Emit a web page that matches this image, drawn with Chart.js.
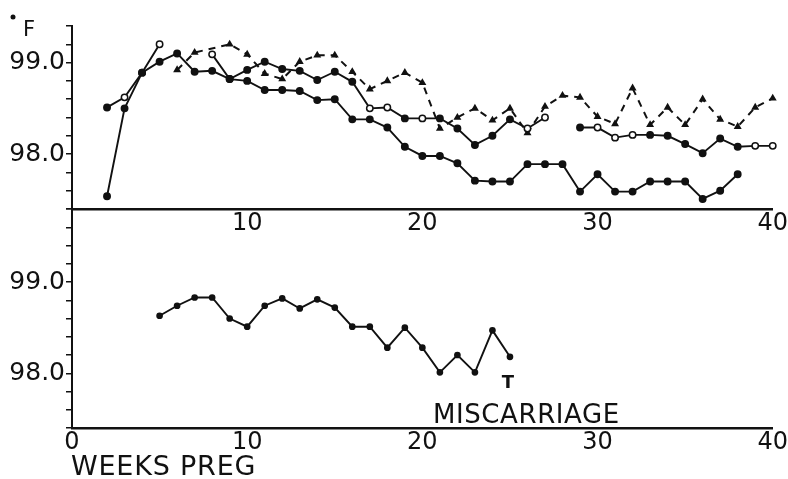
<!DOCTYPE html>
<html>
<head>
<meta charset="utf-8">
<script src="https://cdn.jsdelivr.net/npm/chart.js@4.4.1/dist/chart.umd.min.js"></script>
<style>
  html, body { margin: 0; padding: 0; background: #fff; }
  #wrap { position: relative; width: 788px; height: 479px; overflow: hidden; }
  canvas { position: absolute; left: 0; top: 0; }
</style>
</head>
<body>
<div id="wrap">
  <canvas id="topChart" width="788" height="479"></canvas>
  <canvas id="bottomChart" width="788" height="479"></canvas>
</div>
<script>
// semanas del panel superior (2 a 40)
const weeksTop = [2, 3, 4, 5, 6, 7, 8, 9, 10, 11, 12, 13, 14, 15, 16, 17, 18, 19, 20,
  21, 22, 23, 24, 25, 26, 27, 28, 29, 30, 31, 32, 33, 34, 35, 36, 37, 38, 39, 40];
// curva inferior del panel superior
const tempsLow = [98.51, 98.62, 98.89, 99.01, 99.10, 98.90, 98.91, 98.82, 98.80, 98.70,
  98.70, 98.69, 98.59, 98.60, 98.38, 98.38, 98.29, 98.08, 97.98, 97.98, 97.90, 97.71,
  97.70, 97.70, 97.89, 97.89, 97.89, 97.59, 97.78, 97.59, 97.59, 97.70, 97.70, 97.70,
  97.51, 97.60, 97.78, null, null];
// curva media (circulos abiertos)
const tempsOpen = [97.54, 98.50, 98.89, 99.20, null, null, 99.09, 98.82, 98.92, 99.01,
  98.93, 98.91, 98.81, 98.90, 98.79, 98.50, 98.51, 98.39, 98.39, 98.39, 98.28, 98.10,
  98.20, 98.38, 98.28, 98.40, null, 98.29, 98.29, 98.18, 98.21, 98.21, 98.20, 98.11,
  98.01, 98.17, 98.08, 98.09, 98.09];
// curva punteada
const tempsDashed = [null, null, null, null, 98.92, 99.11, null, 99.20, 99.09, 98.88,
  98.82, 99.01, 99.08, 99.08, 98.90, 98.71, 98.80, 98.89, 98.78, 98.28, 98.40, 98.50,
  98.37, 98.50, 98.23, 98.52, 98.64, 98.62, 98.41, 98.33, 98.72, 98.32, 98.51, 98.32,
  98.60, 98.38, 98.30, 98.51, 98.61];
// semanas con marcador hueco
const hollowLow = [3];
const hollowOpen = [5, 8, 17, 18, 20, 26, 27, 30, 31, 32, 39, 40];

// panel inferior: embarazo con aborto
const weeksBottom = [5, 6, 7, 8, 9, 10, 11, 12, 13, 14, 15, 16, 17, 18, 19, 20, 21, 22, 23, 24, 25];
const tempsMiscarriage = [98.63, 98.74, 98.83, 98.83, 98.60, 98.51, 98.74, 98.82, 98.71,
  98.81, 98.72, 98.51, 98.51, 98.28, 98.50, 98.28, 98.01, 98.20, 98.01, 98.47, 98.18];
const miscarriageWeek = 25;

// etiquetas de los ejes
const xTicks = [0, 10, 20, 30, 40];
const yLabels = [98, 99];

const ink = '#111';
const font = 'DejaVu Sans';

const toPoints = (xs, ys) => xs.map((x, i) => ({ x: x, y: ys[i] }));

function yScale(max) {
  return {
    min: 97.4,
    max: max,
    afterFit: s => { s.width = 72; },
    ticks: {
      stepSize: 0.2,
      autoSkip: false,
      padding: 1,
      color: ink,
      font: { family: font, size: 25 },
      callback: v => {
        const hit = yLabels.find(t => Math.abs(t - v) < 0.01);
        return hit === undefined ? '' : hit.toFixed(1);
      }
    },
    grid: { display: true, drawOnChartArea: false, drawTicks: true, tickLength: 6, color: ink, lineWidth: 1.5 },
    border: { display: true, color: ink, width: 2 }
  };
}

function xScale(height, showZero) {
  return {
    type: 'linear',
    min: 0,
    max: 40,
    afterFit: s => { s.height = height; },
    afterBuildTicks: s => { s.ticks = xTicks.map(v => ({ value: v })); },
    ticks: {
      autoSkip: false,
      maxRotation: 0,
      padding: 0,
      color: ink,
      font: { family: font, size: 24 },
      callback: v => (v === 0 && !showZero) ? '' : String(v)
    },
    grid: { display: false, drawTicks: false },
    border: { display: true, color: ink, width: 2.5 }
  };
}

function solidSet(points, hollow) {
  return {
    data: points,
    borderColor: ink,
    borderWidth: 1.9,
    pointRadius: 3.2,
    pointBorderWidth: 1.5,
    pointBorderColor: ink,
    pointBackgroundColor: ctx => (ctx.raw && hollow.includes(ctx.raw.x)) ? '#fff' : ink,
    clip: false,
    spanGaps: false
  };
}

const baseOptions = {
  responsive: false,
  animation: false,
  events: [],
  plugins: { legend: { display: false }, tooltip: { enabled: false } }
};

// texto del panel superior
const topText = {
  id: 'topText',
  afterDraw(chart) {
    const ctx = chart.ctx;
    ctx.save();
    ctx.fillStyle = ink;
    ctx.beginPath();
    ctx.arc(13, 17, 2.5, 0, Math.PI * 2);
    ctx.fill();
    ctx.font = '21px "' + font + '"';
    ctx.textBaseline = 'alphabetic';
    ctx.fillText('F', 23, 36);
    ctx.restore();
  }
};

// texto del panel inferior
const bottomText = {
  id: 'bottomText',
  afterDraw(chart) {
    const ctx = chart.ctx;
    const x = chart.scales.x;
    const y = chart.scales.y;
    const lastTemp = tempsMiscarriage[weeksBottom.indexOf(miscarriageWeek)];
    const xm = x.getPixelForValue(miscarriageWeek);
    ctx.save();
    ctx.fillStyle = ink;
    ctx.textBaseline = 'alphabetic';
    ctx.textAlign = 'center';
    ctx.font = 'bold 18px "' + font + '"';
    ctx.fillText('T', xm - 2, y.getPixelForValue(lastTemp) + 31);
    ctx.textAlign = 'left';
    ctx.font = '26px "' + font + '"';
    ctx.letterSpacing = '0.6px';
    ctx.fillText('MISCARRIAGE', xm - 77, chart.chartArea.bottom - 5);
    ctx.font = '27px "' + font + '"';
    ctx.letterSpacing = '0.8px';
    ctx.fillText('WEEKS PREG', x.getPixelForValue(0) - 1, 475);
    ctx.restore();
  }
};

new Chart(document.getElementById('topChart'), {
  type: 'line',
  data: {
    datasets: [
      solidSet(toPoints(weeksTop, tempsLow), hollowLow),
      solidSet(toPoints(weeksTop, tempsOpen), hollowOpen),
      {
        data: toPoints(weeksTop, tempsDashed),
        borderColor: ink,
        borderWidth: 2,
        borderDash: [7, 6],
        pointStyle: 'triangle',
        pointRadius: 2.6,
        pointBackgroundColor: ink,
        pointBorderColor: ink,
        clip: false,
        spanGaps: true
      }
    ]
  },
  options: {
    ...baseOptions,
    layout: { padding: { left: 0, top: 26, right: 15, bottom: 239 } },
    scales: { x: xScale(31, false), y: yScale(99.4) }
  },
  plugins: [topText]
});

new Chart(document.getElementById('bottomChart'), {
  type: 'line',
  data: {
    datasets: [
      {
        ...solidSet(toPoints(weeksBottom, tempsMiscarriage), []),
        pointRadius: 2.6
      }
    ]
  },
  options: {
    ...baseOptions,
    layout: { padding: { left: 0, top: 209, right: 15, bottom: 0 } },
    scales: { x: xScale(51, true), y: yScale(99.8) }
  },
  plugins: [bottomText]
});
</script>
</body>
</html>
